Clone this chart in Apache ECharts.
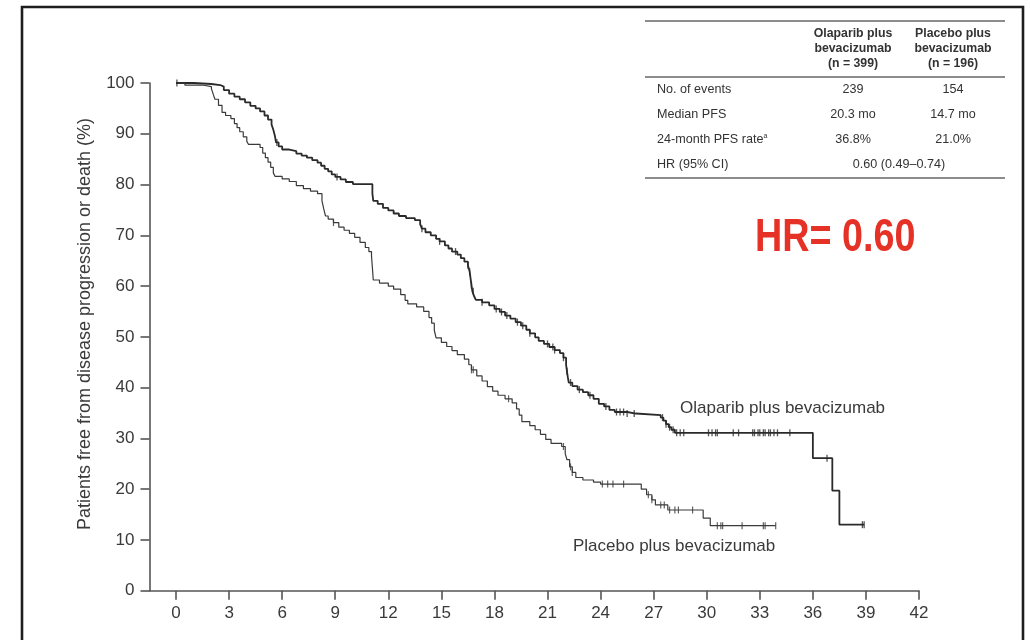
<!DOCTYPE html>
<html>
<head>
<meta charset="utf-8">
<script src="https://cdn.jsdelivr.net/npm/echarts@6/dist/echarts.min.js"></script>
<style>
  html, body { margin: 0; padding: 0; background: #fff; }
  #chart { width: 1030px; height: 640px; }
</style>
</head>
<body>
<div id="chart"></div>
<script>
// Kaplan–Meier progression-free survival, olaparib + bevacizumab vs placebo + bevacizumab

// x-axis tick labels (months)
const monthTicks = [0, 3, 6, 9, 12, 15, 18, 21, 24, 27, 30, 33, 36, 39, 42];

// Olaparib plus bevacizumab: [month, % free] — each level holds from that month on
const olaparibSteps = [
  [0, 100], [1.0, 99.8], [2.0, 99.6], [2.5, 99.3], [2.7, 98.6], [3.0, 97.9], [3.3, 97.3],
  [3.6, 96.8], [3.9, 96.2], [4.2, 95.5], [4.5, 95.0], [4.75, 94.4], [5.0, 93.6], [5.2, 92.8],
  [5.4, 91.8], [5.5, 90.8], [5.6, 89.4], [5.65, 88.3], [5.8, 87.5], [6.0, 86.9], [6.4, 86.6],
  [6.8, 86.1], [7.1, 85.7], [7.4, 85.3], [7.7, 84.8], [8.0, 84.3], [8.2, 83.7], [8.4, 83.1],
  [8.6, 82.6], [8.8, 82.0], [9.0, 81.5], [9.3, 81.0], [9.6, 80.5], [10.0, 80.1], [11.1, 78.2],
  [11.15, 76.8], [11.4, 76.2], [11.7, 75.4], [12.0, 74.9], [12.3, 74.3], [12.6, 73.8],
  [13.0, 73.4], [13.5, 73.0], [13.8, 72.2], [13.9, 71.3], [14.1, 70.6], [14.4, 70.0],
  [14.7, 69.3], [14.9, 68.8], [15.2, 68.0], [15.4, 67.4], [15.6, 66.8], [15.9, 66.2],
  [16.1, 65.5], [16.3, 64.8], [16.5, 64.1], [16.6, 62.8], [16.65, 61.5], [16.7, 60.2],
  [16.75, 59.0], [16.85, 58.0], [16.95, 57.3], [17.3, 56.8], [17.7, 56.2], [18.0, 55.5],
  [18.3, 54.9], [18.6, 54.2], [18.9, 53.6], [19.2, 52.9], [19.5, 52.2], [19.8, 51.4],
  [20.0, 50.7], [20.3, 49.9], [20.5, 49.2], [20.8, 48.6], [21.1, 48.0], [21.4, 47.4],
  [21.7, 46.8], [21.9, 45.9], [22.05, 44.5], [22.1, 43.2], [22.15, 42.0], [22.2, 41.0],
  [22.4, 40.3], [22.7, 39.6], [23.0, 39.1], [23.3, 38.5], [23.6, 37.8], [23.9, 36.8],
  [24.2, 36.3], [24.5, 35.6], [24.8, 35.2], [25.5, 34.9], [26.0, 34.6], [27.4, 34.1],
  [27.55, 33.5], [27.7, 32.8], [27.85, 32.2], [28.0, 31.7], [28.2, 31.1], [36.0, 26.1],
  [37.1, 19.7], [37.5, 13.0], [38.9, 13.0]
];
const olaparibCensored = [
  0.05, 5.7, 9.1, 13.9, 14.9, 15.8, 16.5, 16.6, 16.7, 16.8, 17.3, 18.1, 18.4, 18.7, 19.3,
  19.6, 20.0, 21.0, 21.3, 21.4, 21.9, 22.1, 22.3, 22.8, 23.4, 24.3, 24.9, 25.1, 25.3, 25.5,
  25.9, 27.5, 27.7, 27.9, 28.1, 28.3, 28.5, 28.7, 30.1, 30.3, 30.5, 30.6, 31.5, 31.8, 32.6,
  32.7, 32.9, 33.0, 33.2, 33.3, 33.5, 33.6, 33.8, 34.0, 34.7, 36.8, 38.8, 38.9
];

// Placebo plus bevacizumab: [month, % free]
const placeboSteps = [
  [0, 100], [0.5, 99.6], [1.5, 99.3], [2.0, 98.9], [2.1, 97.8], [2.2, 96.8], [2.4, 95.6],
  [2.6, 94.2], [2.8, 93.6], [3.1, 93.0], [3.3, 92.0], [3.45, 91.2], [3.6, 90.4], [3.8, 89.4],
  [4.0, 88.5], [4.1, 87.9], [4.75, 87.3], [4.9, 86.2], [5.05, 85.3], [5.2, 84.4], [5.35, 83.4],
  [5.5, 82.3], [5.6, 81.6], [6.0, 81.1], [6.4, 80.6], [6.8, 79.8], [7.2, 79.2], [7.6, 78.7],
  [8.0, 78.2], [8.25, 76.8], [8.35, 75.2], [8.45, 73.8], [8.6, 73.2], [8.9, 72.5], [9.2, 71.6],
  [9.5, 71.0], [9.8, 70.4], [10.1, 69.6], [10.4, 68.6], [10.7, 67.6], [10.9, 66.8],
  [11.05, 65.9], [11.1, 63.6], [11.15, 61.2], [11.5, 60.6], [12.0, 60.0], [12.3, 59.4],
  [12.7, 58.3], [12.95, 57.2], [13.1, 56.5], [13.6, 55.9], [14.0, 55.0], [14.3, 53.8],
  [14.45, 52.7], [14.6, 51.3], [14.7, 49.8], [15.0, 48.9], [15.3, 48.1], [15.6, 47.3],
  [15.9, 46.5], [16.3, 45.6], [16.55, 44.5], [16.7, 43.5], [17.0, 42.3], [17.3, 41.3],
  [17.6, 40.2], [17.9, 39.3], [18.2, 38.5], [18.6, 37.8], [19.0, 37.0], [19.25, 35.8],
  [19.4, 34.6], [19.55, 33.3], [20.0, 32.5], [20.3, 31.7], [20.6, 30.8], [20.9, 29.8],
  [21.2, 29.0], [21.8, 28.4], [22.0, 27.0], [22.1, 25.8], [22.25, 24.4], [22.4, 23.3],
  [22.6, 22.3], [23.0, 21.8], [23.6, 21.4], [24.0, 21.0], [26.3, 20.0], [26.6, 18.9],
  [26.9, 17.9], [27.1, 16.9], [27.8, 15.9], [29.8, 14.3], [30.2, 12.8], [33.9, 12.8]
];
const placeboCensored = [
  8.9, 16.7, 16.8, 18.8, 21.9, 22.3, 22.4, 24.1, 24.4, 24.7, 25.3, 26.7, 26.9, 27.4,
  27.6, 27.9, 28.2, 28.4, 29.2, 30.6, 30.8, 30.9, 32.0, 33.2, 33.3, 33.9
];

// Summary table
const tableHeads = [
  ['Olaparib plus', 'bevacizumab', '(n = 399)'],
  ['Placebo plus', 'bevacizumab', '(n = 196)']
];
const tableRows = [
  ['No. of events', '239', '154'],
  ['Median PFS', '20.3 mo', '14.7 mo'],
  ['24-month PFS rate', '36.8%', '21.0%'],
  ['HR (95% CI)', '0.60 (0.49\u20130.74)']
];
const hrText = 'HR= 0.60';
const yTitle = 'Patients free from disease progression or death (%)';
const curveNames = ['Olaparib plus bevacizumab', 'Placebo plus bevacizumab'];

// level of a step curve at month t
function levelAt(steps, t) {
  let v = steps[0][1];
  for (const s of steps) { if (s[0] <= t) v = s[1]; else break; }
  return v;
}
const censorPoints = (steps, times) => times.map(t => [t, levelAt(steps, t)]);

const chart = echarts.init(document.getElementById('chart'), null, { renderer: 'canvas' });

const FONT = 'Liberation Sans, Arial, sans-serif';
const AX = '#555';
const TXT = '#3a3a3a';
const TB = '#333';

// table graphics
const tableGraphics = [];
const tLeft = 645, tRight = 1005, colX = [853, 953];
[21, 77, 178].forEach(y => tableGraphics.push({
  type: 'line', shape: { x1: tLeft, y1: y, x2: tRight, y2: y },
  style: { stroke: '#666', lineWidth: 1.3 }, silent: true
}));
tableHeads.forEach((lines, c) => lines.forEach((ln, r) => tableGraphics.push({
  type: 'text', x: colX[c], y: 33.5 + r * 15,
  style: { text: ln, font: 'bold 12.3px ' + FONT, fill: TB, align: 'center', verticalAlign: 'middle' }
})));
tableRows.forEach((row, r) => {
  const y = 90 + r * 24.7;
  if (r === 2) {
    tableGraphics.push({
      type: 'text', x: 657, y: y,
      style: {
        text: '{m|' + row[0] + '}{s|a}',
        rich: {
          m: { font: '12.6px ' + FONT, fill: TB },
          s: { font: '7px ' + FONT, fill: TB, verticalAlign: 'top', padding: [0, 0, 6, 0] }
        },
        verticalAlign: 'middle'
      }
    });
  } else {
    tableGraphics.push({
      type: 'text', x: 657, y: y,
      style: { text: row[0], font: '12.6px ' + FONT, fill: TB, verticalAlign: 'middle' }
    });
  }
  if (row.length === 2) {
    tableGraphics.push({
      type: 'text', x: 899, y: y,
      style: { text: row[1], font: '12.6px ' + FONT, fill: TB, align: 'center', verticalAlign: 'middle' }
    });
  } else {
    [1, 2].forEach(c => tableGraphics.push({
      type: 'text', x: colX[c - 1], y: y,
      style: { text: row[c], font: '12.6px ' + FONT, fill: TB, align: 'center', verticalAlign: 'middle' }
    }));
  }
});

const option = {
  backgroundColor: '#fff',
  animation: false,
  grid: { left: 149.5, right: 111, top: 83, bottom: 49.3, containLabel: false },
  xAxis: {
    type: 'value', min: -1.5, max: 42,
    axisLine: { show: true, onZero: false, lineStyle: { color: AX, width: 1.6 } },
    axisTick: { show: true, length: 9, customValues: monthTicks, lineStyle: { color: AX, width: 1.6 } },
    axisLabel: { customValues: monthTicks, color: TXT, fontSize: 17, fontFamily: FONT, margin: 14 },
    splitLine: { show: false }
  },
  yAxis: {
    type: 'value', min: 0, max: 100, interval: 10,
    axisLine: { show: true, onZero: false, lineStyle: { color: AX, width: 1.6 } },
    axisTick: { show: true, length: 9, lineStyle: { color: AX, width: 1.6 } },
    axisLabel: { color: TXT, fontSize: 17, fontFamily: FONT, margin: 15 },
    splitLine: { show: false }
  },
  series: [
    {
      name: curveNames[0], type: 'line', step: 'end', data: olaparibSteps,
      showSymbol: false, lineStyle: { color: '#2a2a2a', width: 1.8 }, z: 3
    },
    {
      name: curveNames[1], type: 'line', step: 'end', data: placeboSteps,
      showSymbol: false, lineStyle: { color: '#3a3a3a', width: 1.2 }, z: 3
    },
    {
      type: 'scatter', data: censorPoints(olaparibSteps, olaparibCensored),
      symbol: 'rect', symbolSize: [1.3, 7], itemStyle: { color: '#2a2a2a' }, z: 4
    },
    {
      type: 'scatter', data: censorPoints(placeboSteps, placeboCensored),
      symbol: 'rect', symbolSize: [1.2, 7], itemStyle: { color: '#3a3a3a' }, z: 4
    }
  ],
  graphic: [
    {
      type: 'rect', shape: { x: 22, y: 7, width: 1001, height: 700 },
      style: { fill: null, stroke: '#1e1e1e', lineWidth: 2.6 }, silent: true
    },
    ...tableGraphics,
    {
      type: 'text', x: 85, y: 324, rotation: Math.PI / 2,
      style: { text: yTitle, font: '18px ' + FONT, fill: TXT, align: 'center', verticalAlign: 'middle' }
    },
    {
      type: 'text', x: 755, y: 238, scaleX: 0.82,
      style: { text: hrText, font: 'bold 46px ' + FONT, fill: '#e63226', verticalAlign: 'middle' }
    },
    {
      type: 'text', x: 680, y: 408,
      style: { text: curveNames[0], font: '17px ' + FONT, fill: TXT, verticalAlign: 'middle' }
    },
    {
      type: 'text', x: 573, y: 546,
      style: { text: curveNames[1], font: '17px ' + FONT, fill: TXT, verticalAlign: 'middle' }
    }
  ]
};
chart.setOption(option);
</script>
</body>
</html>
